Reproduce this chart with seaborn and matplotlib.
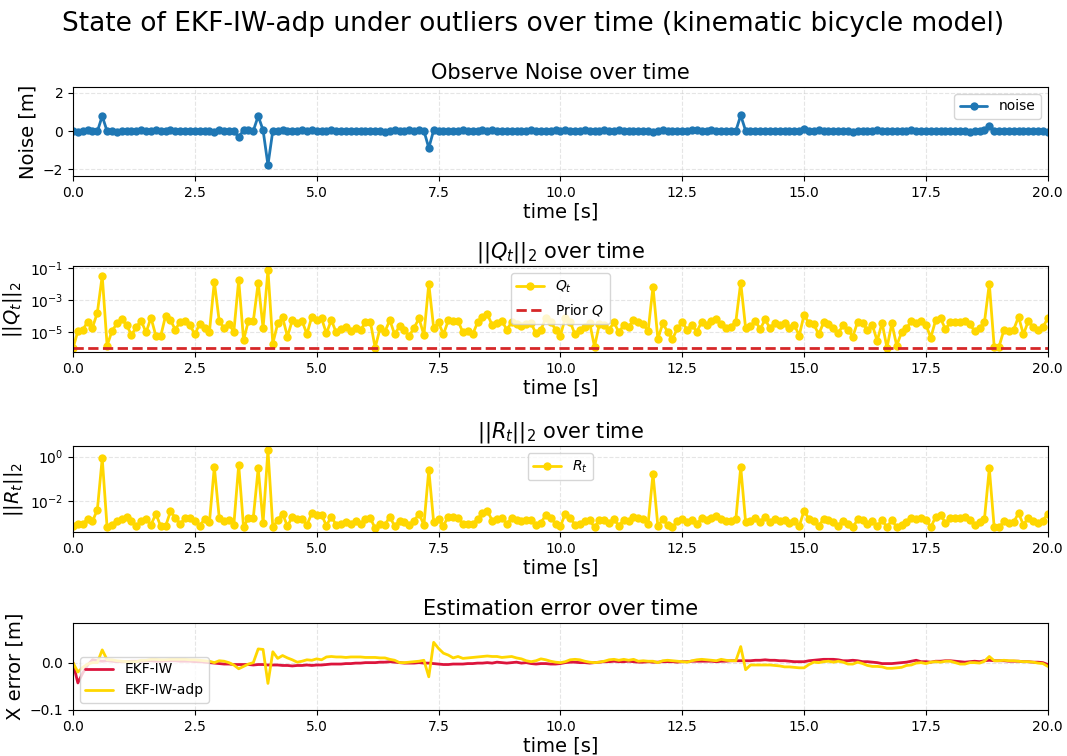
import numpy as np
import pandas as pd
import matplotlib
matplotlib.use("Agg")
import matplotlib.pyplot as plt
import seaborn as sns

# ---------------- data ----------------
time_s = [round(i * 0.1, 1) for i in range(201)]

noise = [
    0.00, -0.03, 0.02, 0.03, 0.01, -0.02, 0.78, -0.01, 0.02, -0.03,
    0.01, -0.02, 0.02, 0.00, 0.03, -0.01, 0.02, 0.04, 0.00, -0.02,
    0.03, 0.01, -0.02, 0.02, 0.00, -0.01, 0.01, 0.02, -0.01, -0.05,
    0.04, 0.01, 0.00, -0.01, -0.30, 0.03, 0.04, 0.02, 0.78, 0.05,
    -1.77, 0.02, 0.00, 0.04, 0.01, -0.02, 0.00, 0.03, 0.02, 0.03,
    0.01, 0.02, -0.01, 0.03, 0.02, 0.01, 0.00, 0.02, 0.01, 0.00,
    0.02, -0.01, 0.01, 0.02, -0.03, 0.01, 0.03, 0.01, 0.02, 0.03,
    0.02, 0.03, 0.02, -0.88, 0.04, 0.01, 0.02, -0.01, 0.01, 0.02,
    0.03, 0.01, 0.00, 0.02, 0.03, 0.01, 0.03, 0.02, 0.00, 0.02,
    0.01, -0.01, 0.00, 0.02, 0.03, 0.01, -0.01, 0.02, 0.00, 0.03,
    0.02, 0.04, 0.02, -0.01, 0.01, 0.03, 0.00, 0.01, 0.02, 0.04,
    0.01, 0.02, 0.03, -0.01, 0.02, 0.01, 0.00, 0.02, -0.02, -0.05,
    0.02, 0.03, 0.01, 0.00, 0.02, -0.01, 0.01, 0.03, 0.04, 0.02,
    0.01, 0.03, -0.01, 0.02, 0.00, 0.02, 0.01, 0.82, 0.02, 0.00,
    0.01, 0.02, -0.01, 0.01, 0.02, 0.00, 0.01, -0.01, 0.00, 0.01,
    0.12, 0.02, 0.01, 0.03, -0.01, 0.02, 0.01, 0.00, 0.02, -0.01,
    -0.04, 0.01, 0.00, -0.02, 0.01, 0.03, 0.00, 0.01, 0.02, 0.00,
    0.02, 0.01, 0.03, 0.00, 0.02, 0.01, 0.02, -0.01, 0.00, 0.01,
    0.02, 0.00, 0.01, -0.01, -0.03, 0.00, 0.01, 0.03, 0.28, 0.02,
    0.01, 0.00, 0.02, 0.01, 0.00, -0.01, 0.02, -0.02, 0.01, 0.00,
    -0.03,
]

q_norm = [
    1.0e-6, 1.2e-5, 1.4e-5, 4.7e-5, 2.0e-5, 1.7e-4, 3.5e-2, 1.5e-6, 1.2e-5, 3.6e-5,
    6.5e-5, 2.9e-5, 6.8e-6, 2.2e-5, 5.1e-5, 1.0e-5, 8.3e-5, 6.2e-6, 5.9e-6, 1.1e-4,
    5.6e-5, 1.5e-5, 4.7e-5, 5.1e-5, 2.9e-5, 7.4e-6, 3.5e-5, 1.9e-5, 1.1e-5, 1.5e-2,
    5.1e-5, 1.8e-5, 3.2e-5, 1.1e-5, 1.9e-2, 3.3e-6, 5.4e-5, 5.1e-5, 1.3e-2, 1.9e-5,
    7.9e-2, 2.0e-6, 3.6e-5, 8.7e-5, 5.4e-6, 5.9e-5, 3.6e-5, 5.1e-5, 7.9e-6, 9.5e-5,
    5.9e-5, 7.4e-5, 8.7e-6, 5.9e-5, 1.0e-5, 1.6e-5, 2.2e-5, 1.2e-5, 2.0e-5, 1.4e-5,
    4.2e-5, 4.7e-5, 1.1e-6, 1.8e-5, 1.1e-5, 5.9e-5, 7.4e-6, 2.5e-5, 1.4e-5, 6.2e-6,
    2.0e-5, 7.4e-5, 6.8e-6, 1.1e-2, 1.9e-5, 4.2e-5, 7.4e-6, 5.6e-5, 5.4e-5, 5.1e-5,
    1.0e-5, 1.2e-5, 7.4e-6, 4.2e-5, 9.1e-5, 1.4e-4, 2.9e-5, 3.6e-5, 5.1e-5, 1.5e-5,
    4.2e-5, 3.3e-5, 2.5e-5, 3.2e-5, 3.6e-5, 8.7e-6, 1.4e-5, 8.3e-5, 4.7e-5, 1.5e-5,
    6.2e-6, 8.3e-5, 4.7e-5, 7.4e-6, 1.4e-5, 2.2e-5, 4.0e-5, 1.3e-6, 3.2e-5, 2.9e-5,
    1.5e-5, 4.2e-5, 1.0e-5, 2.9e-5, 2.2e-5, 5.9e-5, 4.7e-5, 3.2e-5, 1.2e-5, 7.1e-3,
    3.8e-6, 3.6e-5, 1.1e-5, 3.8e-6, 1.8e-5, 4.2e-5, 1.5e-5, 2.9e-5, 1.1e-5, 4.7e-5,
    2.9e-5, 5.1e-5, 6.5e-5, 3.2e-5, 1.8e-5, 2.2e-5, 4.7e-5, 1.3e-2, 1.9e-5, 2.5e-5,
    5.1e-5, 1.6e-5, 6.5e-5, 1.8e-5, 4.0e-5, 2.9e-5, 3.6e-5, 1.9e-5, 2.9e-5, 6.2e-6,
    1.3e-4, 3.6e-5, 3.2e-5, 7.4e-6, 4.2e-5, 3.5e-5, 1.9e-5, 8.7e-6, 2.9e-5, 1.4e-5,
    5.4e-6, 4.7e-5, 4.0e-5, 1.4e-5, 2.9e-5, 2.9e-6, 4.0e-5, 1.1e-6, 3.6e-5, 1.5e-6,
    1.0e-5, 1.8e-5, 5.1e-5, 3.6e-5, 5.1e-5, 2.9e-5, 4.7e-6, 5.9e-5, 7.4e-5, 1.6e-5,
    4.2e-5, 4.2e-5, 4.7e-5, 5.1e-5, 3.2e-5, 1.2e-5, 1.9e-5, 4.2e-5, 1.1e-2, 1.3e-6,
    1.3e-6, 1.4e-5, 1.2e-5, 1.5e-5, 9.5e-5, 7.4e-6, 5.1e-5, 2.2e-5, 1.5e-5, 2.2e-5,
    7.4e-5,
]

q_prior = [1.0e-6] * 201

r_norm = [
    8.3e-4, 1.0e-3, 1.0e-3, 1.6e-3, 1.3e-3, 4.3e-3, 8.5e-1, 6.9e-4, 8.9e-4, 1.4e-3,
    1.6e-3, 2.1e-3, 1.3e-3, 7.8e-4, 1.3e-3, 1.7e-3, 8.9e-4, 2.8e-3, 7.8e-4, 7.8e-4,
    3.6e-3, 1.9e-3, 1.0e-3, 1.8e-3, 1.9e-3, 1.4e-3, 8.3e-4, 1.6e-3, 1.2e-3, 3.5e-1,
    1.9e-3, 1.4e-3, 1.5e-3, 8.9e-4, 4.3e-1, 6.9e-4, 1.9e-3, 1.9e-3, 3.0e-1, 1.1e-3,
    2.0e+0, 6.9e-4, 1.5e-3, 2.8e-3, 7.8e-4, 2.1e-3, 1.6e-3, 1.6e-3, 8.9e-4, 3.0e-3,
    2.5e-3, 2.5e-3, 8.3e-4, 2.1e-3, 8.9e-4, 1.0e-3, 1.2e-3, 1.0e-3, 1.4e-3, 1.0e-3,
    1.6e-3, 1.8e-3, 6.3e-4, 1.0e-3, 8.9e-4, 2.1e-3, 7.8e-4, 1.4e-3, 1.2e-3, 8.9e-4,
    1.4e-3, 2.8e-3, 8.9e-4, 2.6e-1, 1.2e-3, 1.6e-3, 8.3e-4, 2.1e-3, 2.1e-3, 1.9e-3,
    1.0e-3, 1.0e-3, 1.0e-3, 1.6e-3, 3.0e-3, 3.9e-3, 1.4e-3, 1.6e-3, 1.8e-3, 1.0e-3,
    1.8e-3, 1.5e-3, 1.4e-3, 1.5e-3, 1.5e-3, 8.9e-4, 1.1e-3, 2.5e-3, 1.9e-3, 1.0e-3,
    7.8e-4, 2.8e-3, 1.9e-3, 8.9e-4, 1.0e-3, 1.4e-3, 1.5e-3, 6.9e-4, 1.5e-3, 1.5e-3,
    1.1e-3, 1.6e-3, 8.3e-4, 1.5e-3, 1.4e-3, 2.1e-3, 1.8e-3, 1.6e-3, 1.0e-3, 1.7e-1,
    7.8e-4, 1.6e-3, 8.9e-4, 6.9e-4, 1.3e-3, 1.6e-3, 1.2e-3, 1.5e-3, 1.0e-3, 1.8e-3,
    1.5e-3, 1.9e-3, 2.3e-3, 1.6e-3, 1.4e-3, 1.4e-3, 1.6e-3, 3.4e-1, 1.2e-3, 1.4e-3,
    1.9e-3, 1.2e-3, 2.1e-3, 1.2e-3, 1.6e-3, 1.4e-3, 1.5e-3, 1.1e-3, 1.4e-3, 7.8e-4,
    3.9e-3, 1.6e-3, 1.4e-3, 7.8e-4, 1.7e-3, 1.5e-3, 1.2e-3, 8.3e-4, 1.4e-3, 1.0e-3,
    6.9e-4, 1.6e-3, 1.5e-3, 1.0e-3, 1.4e-3, 7.8e-4, 1.5e-3, 6.9e-4, 1.5e-3, 6.9e-4,
    8.9e-4, 1.2e-3, 1.9e-3, 1.6e-3, 1.9e-3, 1.5e-3, 6.9e-4, 2.1e-3, 2.5e-3, 1.1e-3,
    1.8e-3, 1.8e-3, 1.9e-3, 2.1e-3, 1.5e-3, 8.9e-4, 1.2e-3, 1.6e-3, 3.0e-1, 6.9e-4,
    6.9e-4, 1.3e-3, 1.1e-3, 1.2e-3, 3.0e-3, 8.9e-4, 1.9e-3, 1.3e-3, 1.1e-3, 1.4e-3,
    2.8e-3,
]

err_ekf_iw = [
    0.000, -0.043, -0.022, -0.005, 0.006, 0.004, 0.003, 0.004, 0.003, 0.002,
    0.002, 0.002, 0.003, 0.003, 0.003, 0.004, 0.004, 0.003, 0.003, 0.004,
    0.004, 0.004, 0.003, 0.003, 0.003, 0.002, 0.002, 0.001, 0.000, -0.001,
    -0.002, -0.003, -0.003, -0.004, -0.004, -0.004, -0.004, -0.005, -0.004, -0.004,
    -0.005, -0.005, -0.005, -0.006, -0.006, -0.007, -0.006, -0.006, -0.005, -0.006,
    -0.005, -0.005, -0.004, -0.003, -0.003, -0.003, -0.002, -0.002, -0.001, -0.001,
    0.000, 0.000, 0.000, 0.001, 0.001, 0.002, 0.001, 0.000, -0.001, -0.001,
    -0.001, 0.000, -0.001, -0.001, -0.002, -0.003, -0.004, -0.004, -0.003, -0.003,
    -0.003, -0.002, -0.002, -0.001, -0.001, 0.000, -0.001, 0.001, 0.000, -0.001,
    0.000, 0.001, -0.001, 0.000, -0.002, -0.003, -0.002, -0.002, -0.003, -0.003,
    -0.002, 0.000, 0.001, 0.001, 0.000, 0.000, -0.001, 0.000, 0.001, 0.002,
    0.002, 0.003, 0.002, 0.002, 0.003, 0.002, 0.001, 0.001, 0.002, 0.001,
    0.001, 0.002, 0.002, 0.002, 0.001, 0.002, 0.002, 0.003, 0.003, 0.003,
    0.003, 0.003, 0.002, 0.003, 0.003, 0.004, 0.004, 0.004, 0.004, 0.004,
    0.005, 0.005, 0.006, 0.005, 0.005, 0.004, 0.004, 0.003, 0.002, 0.002,
    0.002, 0.004, 0.005, 0.006, 0.007, 0.007, 0.007, 0.006, 0.004, 0.004,
    0.005, 0.004, 0.002, 0.002, 0.001, 0.000, -0.002, -0.002, -0.002, -0.001,
    0.000, 0.001, 0.003, 0.005, 0.002, 0.002, 0.001, 0.003, 0.003, 0.004,
    0.004, 0.003, 0.002, 0.001, 0.002, 0.003, 0.002, 0.004, 0.005, 0.004,
    0.004, 0.004, 0.003, 0.003, 0.003, 0.002, 0.002, 0.001, 0.001, 0.000,
    -0.004,
]

err_ekf_iw_adp = [
    0.000, -0.020, -0.010, -0.003, 0.000, 0.000, 0.027, 0.006, 0.006, 0.004,
    0.003, 0.002, 0.002, 0.002, 0.005, 0.005, 0.007, 0.007, 0.006, 0.006,
    0.007, 0.007, 0.007, 0.007, 0.006, 0.006, 0.005, 0.004, 0.003, 0.000,
    0.004, 0.003, 0.000, -0.005, -0.013, -0.008, -0.003, 0.000, 0.029, 0.028,
    -0.044, 0.023, 0.009, 0.015, 0.010, 0.006, 0.001, 0.003, 0.006, 0.005,
    0.008, 0.006, 0.012, 0.013, 0.012, 0.012, 0.011, 0.012, 0.012, 0.012,
    0.011, 0.011, 0.011, 0.010, 0.010, 0.007, 0.005, 0.000, 0.000, 0.001,
    0.002, 0.003, 0.005, -0.030, 0.043, 0.030, 0.020, 0.016, 0.010, 0.013,
    0.009, 0.010, 0.011, 0.012, 0.013, 0.014, 0.013, 0.013, 0.011, 0.012,
    0.013, 0.010, 0.008, 0.004, 0.002, 0.004, 0.008, 0.006, 0.003, 0.001,
    0.000, 0.002, 0.006, 0.007, 0.006, 0.003, 0.001, 0.000, 0.001, 0.003,
    0.006, 0.007, 0.005, 0.007, 0.005, 0.007, 0.003, 0.004, 0.003, 0.003,
    0.000, 0.004, 0.005, 0.004, 0.003, 0.002, 0.001, 0.004, 0.006, 0.007,
    0.006, 0.005, 0.004, 0.007, 0.005, 0.004, 0.004, 0.034, -0.015, -0.005,
    -0.005, -0.005, -0.005, -0.005, -0.006, -0.007, -0.009, -0.009, -0.010, -0.011,
    -0.011, -0.004, 0.001, 0.000, 0.002, 0.003, 0.001, 0.003, 0.001, -0.003,
    -0.003, 0.001, -0.002, -0.006, -0.008, -0.008, -0.009, -0.012, -0.012, -0.011,
    -0.010, -0.006, -0.005, -0.001, 0.000, -0.002, 0.001, 0.002, 0.001, 0.003,
    0.003, 0.000, -0.003, -0.003, 0.000, 0.000, -0.001, 0.003, 0.013, 0.004,
    0.004, 0.005, 0.004, 0.004, 0.003, 0.002, 0.002, 0.001, -0.001, -0.002,
    -0.008,
]

# ---------------- plotting ----------------
sns.set_style("ticks")
plt.rcParams.update({
    "font.family": ["DejaVu Sans"],
    "text.color": "black",
    "axes.labelcolor": "black",
    "axes.edgecolor": "black",
    "xtick.color": "black",
    "ytick.color": "black",
    "xtick.major.size": 3.5,
    "ytick.major.size": 3.5,
    "xtick.major.width": 0.8,
    "ytick.major.width": 0.8,
    "ytick.minor.size": 2,
    "axes.linewidth": 0.8,
})

df = pd.DataFrame({
    "time": time_s, "noise": noise, "Q": q_norm, "prior": q_prior,
    "R": r_norm, "e1": err_ekf_iw, "e2": err_ekf_iw_adp,
})

fig = plt.figure(figsize=(10.67, 7.56), dpi=100)
L, W = 0.0684, 0.9136
ax1 = fig.add_axes([L, 0.767, W, 0.118])
ax2 = fig.add_axes([L, 0.534, W, 0.114])
ax3 = fig.add_axes([L, 0.296, W, 0.114])
ax4 = fig.add_axes([L, 0.061, W, 0.115])

gold = "#FFD700"

sns.lineplot(data=df, x="time", y="noise", ax=ax1, color="#1f77b4", marker="o",
             markersize=6, markeredgewidth=0, linewidth=2, label="noise")
ax1.set_ylim(-2.35, 2.3)
ax1.set_title("Observe Noise over time", fontsize=15)
ax1.set_ylabel("Noise [m]", fontsize=14)
ax1.legend(loc="upper right", fontsize=10)

sns.lineplot(data=df, x="time", y="Q", ax=ax2, color=gold, marker="o",
             markersize=6, markeredgewidth=0, linewidth=2, label="$Q_t$")
sns.lineplot(data=df, x="time", y="prior", ax=ax2, color="#d62728",
             linestyle="--", linewidth=2, label="Prior $Q$")
ax2.set_yscale("log")
ax2.set_title("$||Q_t||_2$ over time", fontsize=15)
ax2.set_ylabel("$||Q_t||_2$", fontsize=14)
ax2.legend(loc="upper center", fontsize=10)

sns.lineplot(data=df, x="time", y="R", ax=ax3, color=gold, marker="o",
             markersize=6, markeredgewidth=0, linewidth=2, label="$R_t$")
ax3.set_yscale("log")
ax3.set_title("$||R_t||_2$ over time", fontsize=15)
ax3.set_ylabel("$||R_t||_2$", fontsize=14)
ax3.legend(loc="upper center", fontsize=10)

sns.lineplot(data=df, x="time", y="e1", ax=ax4, color="#DC143C",
             linewidth=2, label="EKF-IW")
sns.lineplot(data=df, x="time", y="e2", ax=ax4, color=gold,
             linewidth=2, label="EKF-IW-adp")
ax4.set_ylim(-0.1, 0.084)
ax4.set_title("Estimation error over time", fontsize=15)
ax4.set_ylabel("X error [m]", fontsize=14)
ax4.legend(loc="lower left", fontsize=10)

for ax in (ax1, ax2, ax3, ax4):
    ax.set_xlim(0, 20)
    ax.set_xlabel("time [s]", fontsize=14, labelpad=2)
    ax.grid(True, linestyle="--", alpha=0.5)
    ax.tick_params(labelsize=10)
    for s in ax.spines.values():
        s.set_visible(True)
        s.set_color("black")

fig.suptitle("State of EKF-IW-adp under outliers over time (kinematic bicycle model)",
             fontsize=19, x=0.5, y=0.985)

fig.savefig("out.png", dpi=100)
